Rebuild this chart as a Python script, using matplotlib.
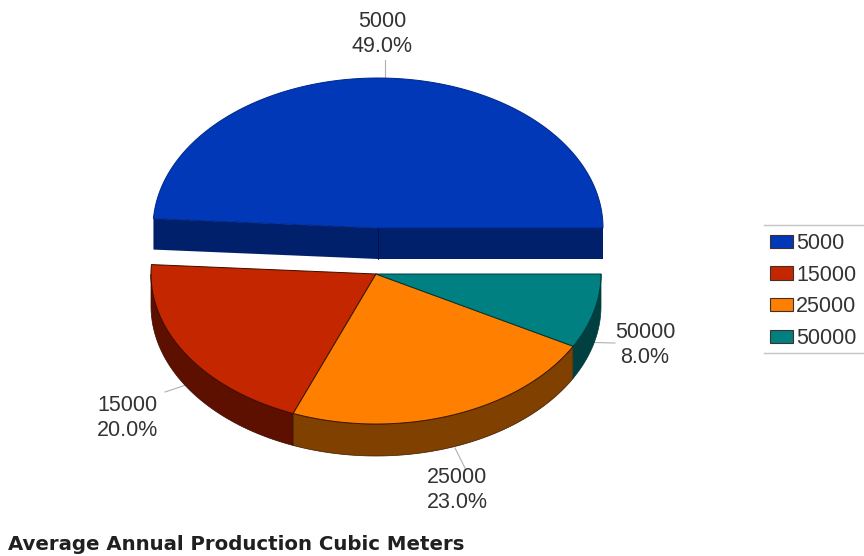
import numpy as np
import matplotlib
matplotlib.use("Agg")
import matplotlib.pyplot as plt
from matplotlib.patches import Patch

categories = ["5000", "15000", "25000", "50000"]
shares = [49.0, 20.0, 23.0, 8.0]
percent_labels = ["49.0%", "20.0%", "23.0%", "8.0%"]
title_text = "Average Annual Production Cubic Meters"
top_colors = ["#0038b8", "#c42600", "#ff8000", "#008080"]
side_colors = ["#00206c", "#5e1000", "#7f4000", "#004040"]
edge_colors = ["#00268a", "#3a0c00", "#3a1800", "#003838"]

W, H = 864, 556
RX, RY = 225, 150
CENTERS = [(378, 228), (376, 274), (376, 274), (376, 274)]
DEPTHS = [31, 32, 32, 32]
LABEL_POS = [(382, 34), (127, 418), (457, 490), (645, 345)]
LEADERS = [((385, 60), (385, 78)), ((165, 392), (186, 385)),
           ((455, 448), (465, 468)), ((574, 342), (615, 343))]

fig = plt.figure(figsize=(W / 100, H / 100), dpi=100)
ax = fig.add_axes([0, 0, 1, 1])
ax.set_xlim(0, W)
ax.set_ylim(H, 0)
ax.axis("off")
plt.rcParams["font.family"] = ["Liberation Sans"]


def rim(cx, cy, a0, a1, n=200):
    t = np.radians(np.linspace(a0, a1, n))
    return cx + RX * np.cos(t), cy - RY * np.sin(t)


edges = np.concatenate([[0], np.cumsum(shares)]) * 3.6

# sides first, drawn from the slices' angles
for i in range(len(shares)):
    a0, a1 = edges[i], edges[i + 1]
    cx, cy = CENTERS[i]
    d = DEPTHS[i]
    if a1 <= 180:
        x0 = cx + RX * np.cos(np.radians(a0))
        y0 = cy - RY * np.sin(np.radians(a0))
        x1 = cx + RX * np.cos(np.radians(a1))
        y1 = cy - RY * np.sin(np.radians(a1))
        ax.fill([x1, cx, cx, x1], [y1, cy, cy + d, y1 + d], color=side_colors[i], lw=0, zorder=2)
        ax.fill([cx, x0, x0, cx], [cy, y0, y0 + d, cy + d], color=side_colors[i], lw=0, zorder=2)
        ax.plot([cx, cx], [cy, cy + d], color="#001040", lw=0.6, zorder=3)
    lo, hi = max(a0, 180), a1
    if hi > lo:
        xs, ys = rim(cx, cy, lo, hi)
        ax.fill(np.r_[xs, xs[::-1]], np.r_[ys, ys[::-1] + d],
                facecolor=side_colors[i], edgecolor=edge_colors[i], lw=0.5, zorder=2)

# top faces
for i in range(len(shares)):
    a0, a1 = edges[i], edges[i + 1]
    cx, cy = CENTERS[i]
    xs, ys = rim(cx, cy, a0, a1)
    ax.fill(np.r_[cx, xs], np.r_[cy, ys], facecolor=top_colors[i],
            edgecolor=edge_colors[i], lw=0.7, joinstyle="round", zorder=4)

# labels and leader lines
for i, cat in enumerate(categories):
    ax.text(*LABEL_POS[i], f"{cat}\n{percent_labels[i]}", ha="center", va="center",
            fontsize=15.5, color="#333333", linespacing=1.3, zorder=6)
    (x0, y0), (x1, y1) = LEADERS[i]
    ax.plot([x0, x1], [y0, y1], color="#b0b0b0", lw=0.8, zorder=1)

# legend
handles = [Patch(facecolor=c, edgecolor="#40302a", lw=0.8, label=l)
           for c, l in zip(top_colors, categories)]
ax.legend(handles=handles, loc="upper left", bbox_to_anchor=(764 / W, 1 - 227 / H),
          bbox_transform=fig.transFigure, frameon=False, fontsize=15.5,
          labelcolor="#333333", handlelength=1.08, handleheight=0.56, handletextpad=0.14,
          labelspacing=0.49, borderpad=0.28, borderaxespad=0)
for y in (224.5, 353):
    ax.plot([764, W], [y, y], color="#c4c4c4", lw=1.0, zorder=1)

ax.text(8, 544, title_text, ha="left", va="center", fontsize=14.2,
        fontweight="bold", family="DejaVu Sans", color="#202020")

fig.savefig("out.png", dpi=100)
